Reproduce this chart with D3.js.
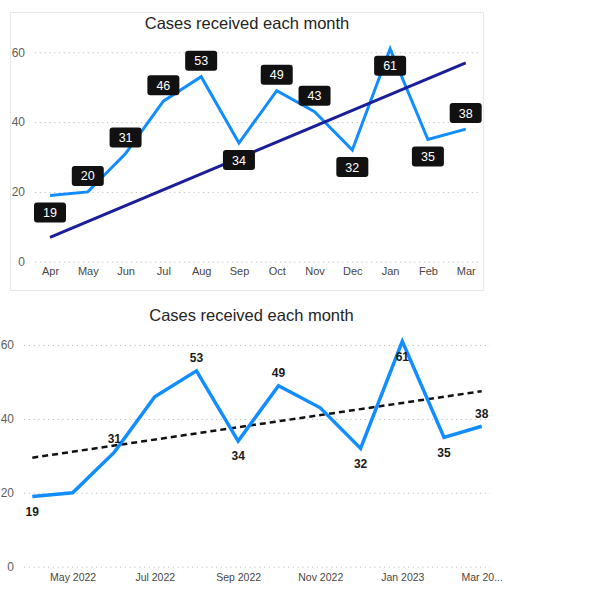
<!DOCTYPE html>
<html><head><meta charset="utf-8">
<script src="https://cdn.jsdelivr.net/npm/d3@7"></script>
<style>
body{margin:0;background:#fff;}
svg{display:block;font-family:"Liberation Sans",Arial,sans-serif;}
</style></head>
<body>
<script>
const months = ['Apr','May','Jun','Jul','Aug','Sep','Oct','Nov','Dec','Jan','Feb','Mar'];
const monthDates = ['2022-04-01','2022-05-01','2022-06-01','2022-07-01','2022-08-01','2022-09-01','2022-10-01','2022-11-01','2022-12-01','2023-01-01','2023-02-01','2023-03-01'];
const cases = [19,20,31,46,53,34,49,43,32,61,35,38];
const yTicks = [0,20,40,60];
const trendTop = [7,57];        // trend value at first and last month (top chart)
const trendBottom = [29.5,47.5]; // trend value at first and last month (bottom chart)
const bottomTickDates = ['2022-05-01','2022-07-01','2022-09-01','2022-11-01','2023-01-01','2023-03-01'];
const bottomTickLabels = ['May 2022','Jul 2022','Sep 2022','Nov 2022','Jan 2023','Mar 20...'];
const bottomLabelled = ['Apr','Jun','Aug','Sep','Oct','Dec','Jan','Feb','Mar'];
const title = 'Cases received each month';

const W = 607, H = 599;
const svg = d3.select('body').append('svg').attr('width', W).attr('height', H);
const parse = d3.timeParse('%Y-%m-%d');
const data = months.map((m,i)=>({m, d: parse(monthDates[i]), v: cases[i]}));

function isBelow(i, y, yTop){
  const v = cases[i];
  const prev = i>0 ? cases[i-1] : Infinity;
  const next = i<cases.length-1 ? cases[i+1] : Infinity;
  if (v < prev && v < next) return true;
  if (y(v) - 26 < yTop - 5) return true;
  return false;
}

// ---------- TOP CHART ----------
{
  const g = svg.append('g');
  g.append('rect').attr('x',10.5).attr('y',12.5).attr('width',473).attr('height',278)
    .attr('fill','#fff').attr('stroke','#e8e8e8');
  g.append('text').attr('x',247).attr('y',28.5).attr('text-anchor','middle')
    .attr('font-size',16.5).attr('fill','#252423').text(title);

  const x = d3.scalePoint(months, [50, 465.7]);
  const y = d3.scaleLinear([0,60], [261.7, 52.3]);

  const ya = g.append('g').attr('transform','translate(35,0)')
    .call(d3.axisLeft(y).tickValues(yTicks).tickSize(-445).tickPadding(10));
  ya.select('.domain').remove();
  ya.selectAll('line').attr('stroke','#bdbdbd').attr('stroke-dasharray','1.2,3.6');
  ya.selectAll('text').attr('font-size',12).attr('fill','#605E5C').attr('font-family','inherit');

  const xa = g.append('g').attr('transform','translate(0,261.7)')
    .call(d3.axisBottom(x).tickSize(0).tickPadding(6));
  xa.select('.domain').remove();
  xa.selectAll('text').attr('font-size',11).attr('fill','#484644').attr('font-family','inherit');

  const line = d3.line().x(d=>x(d.m)).y(d=>y(d.v));
  g.append('path').datum(data).attr('d',line).attr('fill','none')
    .attr('stroke','#118DFF').attr('stroke-width',3).attr('stroke-linejoin','miter');

  g.append('line')
    .attr('x1',x(months[0])).attr('y1',y(trendTop[0]))
    .attr('x2',x(months[months.length-1])).attr('y2',y(trendTop[1]))
    .attr('stroke','#1A1F99').attr('stroke-width',3);

  const lab = g.selectAll('.lab').data(data).join('g')
    .attr('transform',(d,i)=>{
      const below = isBelow(i, y, y(60));
      return `translate(${x(d.m)},${y(d.v) + (below ? 17 : -16)})`;
    });
  lab.append('rect').attr('x',-16).attr('y',-10).attr('width',32).attr('height',20)
    .attr('rx',3).attr('fill','#111');
  lab.append('text').attr('text-anchor','middle').attr('dy','0.36em')
    .attr('font-size',12.5).attr('fill','#fff').text(d=>d.v);
}

// ---------- BOTTOM CHART ----------
{
  const g = svg.append('g');
  g.append('text').attr('x',251.5).attr('y',321).attr('text-anchor','middle')
    .attr('font-size',16.5).attr('fill','#252423').text(title);

  const x = d3.scaleTime([data[0].d, data[data.length-1].d], [32.3, 481.7]);
  const y = d3.scaleLinear([0,60], [566.7, 345]);

  const ya = g.append('g').attr('transform','translate(24,0)')
    .call(d3.axisLeft(y).tickValues(yTicks).tickSize(-466).tickPadding(10));
  ya.select('.domain').remove();
  ya.selectAll('line').attr('stroke','#bdbdbd').attr('stroke-dasharray','1.2,3.6');
  ya.selectAll('text').attr('font-size',12).attr('fill','#605E5C').attr('font-family','inherit');

  const tickDs = bottomTickDates.map(parse);
  const xa = g.append('g').attr('transform','translate(0,566.7)')
    .call(d3.axisBottom(x).tickValues(tickDs).tickFormat((d,i)=>bottomTickLabels[i]).tickSize(0).tickPadding(7));
  xa.select('.domain').remove();
  xa.selectAll('text').attr('font-size',10.5).attr('fill','#484644').attr('font-family','inherit');

  g.append('line')
    .attr('x1',x(data[0].d)).attr('y1',y(trendBottom[0]))
    .attr('x2',x(data[data.length-1].d)).attr('y2',y(trendBottom[1]))
    .attr('stroke','#111').attr('stroke-width',2.5).attr('stroke-dasharray','6,4');

  const line = d3.line().x(d=>x(d.d)).y(d=>y(d.v));
  g.append('path').datum(data).attr('d',line).attr('fill','none')
    .attr('stroke','#118DFF').attr('stroke-width',3.5).attr('stroke-linejoin','miter');

  g.selectAll('.blab').data(data.filter(d=>bottomLabelled.includes(d.m))).join('text')
    .attr('x',d=>x(d.d))
    .attr('y',d=>{
      const i = months.indexOf(d.m);
      const below = isBelow(i, y, y(60));
      return y(d.v) + (below ? 15 : -13);
    })
    .attr('dy','0.36em').attr('text-anchor','middle')
    .attr('font-size',12).attr('font-weight','bold').attr('fill','#1a1a1a').text(d=>d.v);
}
</script>
</body></html>
